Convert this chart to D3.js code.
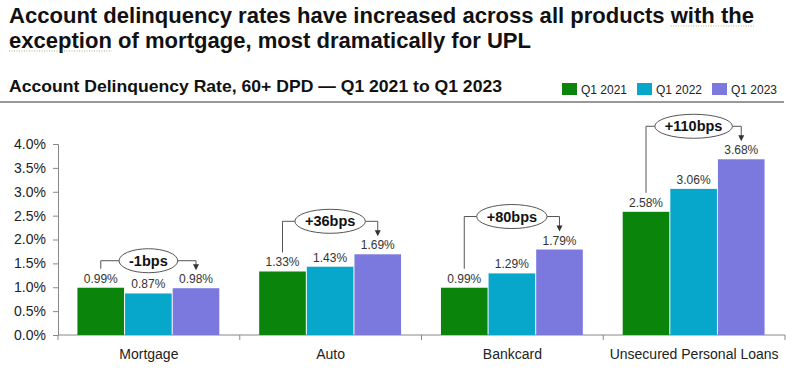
<!DOCTYPE html>
<html><head><meta charset="utf-8">
<script src="https://cdn.jsdelivr.net/npm/d3@7"></script>
<style>
html,body{margin:0;padding:0;background:#fff;}
svg{display:block;}
text{font-family:"Liberation Sans",Arial,sans-serif;}
</style></head>
<body>
<svg id="chart" width="800" height="375"></svg>
<script>
const categories = ["Mortgage", "Auto", "Bankcard", "Unsecured Personal Loans"];
const seriesNames = ["Q1 2021", "Q1 2022", "Q1 2023"];
const q1_2021 = [0.99, 1.33, 0.99, 2.58];
const q1_2022 = [0.87, 1.43, 1.29, 3.06];
const q1_2023 = [0.98, 1.69, 1.79, 3.68];
const changeLabels = ["-1bps", "+36bps", "+80bps", "+110bps"];
const yTickValues = [0, 0.5, 1.0, 1.5, 2.0, 2.5, 3.0, 3.5, 4.0];
const colors = ["#0a840a", "#07a6cb", "#7b79dd"];

const seriesValues = [q1_2021, q1_2022, q1_2023];
const svg = d3.select("#chart");

// Titles
const t1 = svg.append("text").attr("x",9).attr("y",23)
  .attr("font-size",22).attr("font-weight","bold").attr("fill","#111")
  .attr("textLength",745).attr("lengthAdjust","spacingAndGlyphs")
  .text("Account delinquency rates have increased across all products with the");
const t2 = svg.append("text").attr("x",9).attr("y",48)
  .attr("font-size",22).attr("font-weight","bold").attr("fill","#111")
  .attr("textLength",522).attr("lengthAdjust","spacingAndGlyphs")
  .text("exception of mortgage, most dramatically for UPL");
// faint dotted proofing underlines (as in the source slide)
function dotted(textSel, from, to, yy){
  const n = textSel.node();
  const xa = n.getStartPositionOfChar(from).x, xb = n.getEndPositionOfChar(to).x;
  svg.append("line").attr("x1",xa).attr("x2",xb).attr("y1",yy).attr("y2",yy)
    .attr("stroke","#b8b070").attr("stroke-width",1).attr("stroke-dasharray","1,1.5");
}
const s1 = t1.text();
dotted(t1, s1.indexOf("with the"), s1.length-1, 26);
dotted(t2, 0, "exception".length-1, 51);

svg.append("text").attr("x",9).attr("y",92)
  .attr("font-size",16.5).attr("font-weight","bold").attr("fill","#111")
  .attr("textLength",493).attr("lengthAdjust","spacingAndGlyphs")
  .text("Account Delinquency Rate, 60+ DPD \u2014 Q1 2021 to Q1 2023");
svg.append("line").attr("x1",0).attr("x2",784).attr("y1",102).attr("y2",102)
  .attr("stroke","#777").attr("stroke-width",1.5);

// Legend
const legendX = [562, 637, 712];
seriesNames.forEach((s,i)=>{
  svg.append("rect").attr("x",legendX[i]).attr("y",83).attr("width",15).attr("height",12).attr("fill",colors[i]);
  svg.append("text").attr("x",legendX[i]+19).attr("y",94).attr("font-size",12).attr("fill","#222").text(s);
});

// Scales
const x = d3.scaleBand().domain(categories).range([58, 785]).paddingInner(0).paddingOuter(0);
const bw = x.bandwidth();
const xs = d3.scaleBand().domain(seriesNames).range([bw*0.107, bw*0.893]).padding(0);
const y = d3.scaleLinear().domain([0, 4]).range([335, 144]);

// Y axis
const yAxis = d3.axisLeft(y).tickValues(yTickValues).tickSize(5).tickPadding(7)
  .tickFormat(d => d.toFixed(1) + "%");
const yg = svg.append("g").attr("transform","translate(58,0)").call(yAxis);
yg.select(".domain").attr("stroke","#888");
yg.selectAll(".tick line").attr("stroke","#888");
yg.selectAll(".tick text").attr("font-size",14).attr("fill","#222").attr("font-family","Liberation Sans, Arial, sans-serif");

// X axis
const xAxis = d3.axisBottom(x).tickSize(0).tickPadding(14);
const xg = svg.append("g").attr("transform","translate(0,335)").call(xAxis);
xg.select(".domain").attr("stroke","#888").attr("d","M58,0H785");
xg.selectAll(".tick text").attr("font-size",14).attr("fill","#222").attr("font-family","Liberation Sans, Arial, sans-serif");
const bounds = categories.map(c => x(c)).concat([x(categories[categories.length-1]) + bw]);
xg.selectAll(".bnd").data(bounds).enter().append("line").attr("class","bnd")
  .attr("x1",d=>d).attr("x2",d=>d).attr("y1",0).attr("y2",5).attr("stroke","#888");

// Bars
const data = [];
categories.forEach((c,ci)=>seriesNames.forEach((s,si)=>data.push({c, s, si, v: seriesValues[si][ci]})));
svg.append("g").selectAll("rect").data(data).enter().append("rect")
  .attr("x", d => x(d.c) + xs(d.s))
  .attr("y", d => y(d.v))
  .attr("width", xs.bandwidth() - 1)
  .attr("height", d => y(0) - y(d.v))
  .attr("fill", d => colors[d.si]);

// Value labels
svg.append("g").selectAll("text").data(data).enter().append("text")
  .attr("x", d => x(d.c) + xs(d.s) + (xs.bandwidth()-1)/2)
  .attr("y", d => y(d.v) - 5)
  .attr("text-anchor","middle").attr("font-size",12).attr("fill","#333")
  .text(d => d.v.toFixed(2) + "%");

// Change annotations
const ann = svg.append("g");
categories.forEach((c,ci)=>{
  const x0 = x(c) + xs(seriesNames[0]) + (xs.bandwidth()-1)/2;
  const x2 = x(c) + xs(seriesNames[2]) + (xs.bandwidth()-1)/2;
  const v0 = q1_2021[ci], v2 = q1_2023[ci];
  const vmax = Math.max(q1_2021[ci], q1_2022[ci], q1_2023[ci]);
  const level = y(vmax) - (ci === 0 ? 27 : 33);
  const yStart = y(v0) - 19, yEnd = y(v2) - 18;
  ann.append("path")
    .attr("d", `M${x0},${yStart}V${level}H${x2}V${yEnd - 5}`)
    .attr("fill","none").attr("stroke","#555").attr("stroke-width",1);
  ann.append("path")
    .attr("d", `M${x2-3},${yEnd-6}L${x2+3},${yEnd-6}L${x2},${yEnd}Z`)
    .attr("fill","#333");
  const cx = (x0 + x2)/2;
  const el = ann.append("ellipse").attr("cx",cx).attr("cy",level).attr("ry",12)
    .attr("fill","#fff").attr("stroke","#555").attr("stroke-width",1);
  const t = ann.append("text").attr("x",cx).attr("y",level+5)
    .attr("text-anchor","middle").attr("font-size",14.5).attr("font-weight","bold").attr("fill","#111")
    .text(changeLabels[ci]);
  const w = t.node().getComputedTextLength();
  el.attr("rx", w/2 + 10);
});
</script>
</body></html>
